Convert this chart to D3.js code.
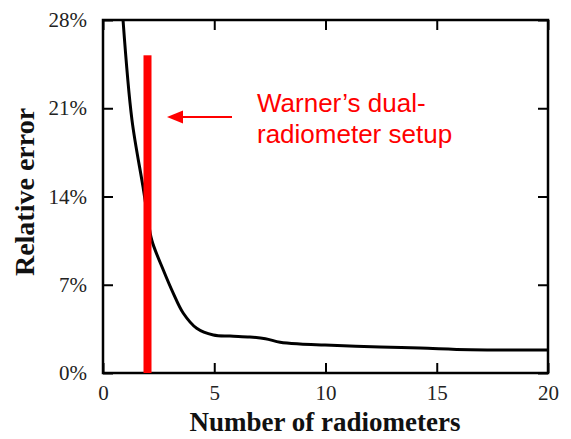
<!DOCTYPE html>
<html>
<head>
<meta charset="utf-8">
<script src="https://cdn.jsdelivr.net/npm/d3@7"></script>
<style>
  body { margin: 0; background: #fff; }
  svg { display: block; }
</style>
</head>
<body>
<div id="chart"></div>
<script>
// data
var radiometers = [0.9, 1.3, 1.8, 2.0, 2.19, 2.71, 3.16, 3.61, 4.21, 4.96, 5.71, 6.6, 7.3, 7.96, 8.85, 9.98, 12.45, 14.25, 16.5, 20];
var relError   = [28.0, 20.1, 14.75, 12.5, 10.55, 8.17, 6.32, 4.74, 3.55, 3.02, 2.93, 2.86, 2.72, 2.44, 2.30, 2.22, 2.06, 1.98, 1.85, 1.82];
var xTicks = [0, 5, 10, 15, 20];
var yTicks = [0, 7, 14, 21, 28];
var setupX = 2, setupTop = 25.2;
var noteLines = ["Warner\u2019s dual-", "radiometer setup"];

var W = 571, H = 439;
var m = {left: 103, right: 23, top: 20, bottom: 66};

var svg = d3.select("#chart").append("svg")
  .attr("width", W)
  .attr("height", H);

var x = d3.scaleLinear().domain([0, 20]).range([m.left, W - m.right]);
var y = d3.scaleLinear().domain([0, 28]).range([H - m.bottom, m.top]);

svg.append("clipPath").attr("id", "clip")
  .append("rect")
  .attr("x", m.left).attr("y", m.top)
  .attr("width", W - m.left - m.right)
  .attr("height", H - m.top - m.bottom);

// curve
var line = d3.line()
  .x(function(d, i) { return x(radiometers[i]); })
  .y(function(d) { return y(d); })
  .curve(d3.curveCatmullRom.alpha(0.5));

svg.append("path")
  .datum(relError)
  .attr("clip-path", "url(#clip)")
  .attr("d", line)
  .attr("fill", "none")
  .attr("stroke", "#000")
  .attr("stroke-width", 3);

// axes, ticks pointing inward on all four sides
var tickStyle = function(g) {
  g.attr("font-family", "Liberation Serif, serif");
  g.select(".domain").remove();
  g.selectAll(".tick line").attr("stroke", "#000").attr("stroke-width", 2);
  g.selectAll(".tick text")
    .attr("font-family", "Liberation Serif, serif")
    .attr("font-size", 21)
    .attr("fill", "#222");
};

svg.append("g")
  .attr("transform", "translate(0," + (H - m.bottom) + ")")
  .call(d3.axisBottom(x).tickValues(xTicks).tickSize(-10).tickPadding(12))
  .call(tickStyle);

svg.append("g")
  .attr("transform", "translate(0," + m.top + ")")
  .call(d3.axisTop(x).tickValues(xTicks).tickSize(-10).tickFormat(""))
  .call(tickStyle);

svg.append("g")
  .attr("transform", "translate(" + m.left + ",0)")
  .call(d3.axisLeft(y).tickValues(yTicks).tickSize(-10).tickPadding(16)
    .tickFormat(function(d) { return d + "%"; }))
  .call(tickStyle);

svg.append("g")
  .attr("transform", "translate(" + (W - m.right) + ",0)")
  .call(d3.axisRight(y).tickValues(yTicks).tickSize(-10).tickFormat(""))
  .call(tickStyle);

svg.append("rect")
  .attr("x", m.left).attr("y", m.top)
  .attr("width", W - m.left - m.right)
  .attr("height", H - m.top - m.bottom)
  .attr("fill", "none")
  .attr("stroke", "#000")
  .attr("stroke-width", 2.5);

// axis titles
svg.append("text")
  .attr("x", 325)
  .attr("y", 431)
  .attr("text-anchor", "middle")
  .attr("font-family", "Liberation Serif")
  .attr("font-weight", "bold")
  .attr("font-size", 27)
  .attr("fill", "#111")
  .text("Number of radiometers");

svg.append("text")
  .attr("transform", "translate(34,192) rotate(-90)")
  .attr("text-anchor", "middle")
  .attr("font-family", "Liberation Serif")
  .attr("font-weight", "bold")
  .attr("font-size", 28)
  .attr("fill", "#111")
  .text("Relative error");

// red marker for the dual setup
svg.append("rect")
  .attr("x", x(setupX) - 4)
  .attr("y", y(setupTop))
  .attr("width", 8)
  .attr("height", y(0) - y(setupTop))
  .attr("fill", "#ff0000");

// arrow and note
svg.append("line")
  .attr("x1", 232).attr("y1", 117)
  .attr("x2", 175).attr("y2", 117)
  .attr("stroke", "#ff0000")
  .attr("stroke-width", 2);

svg.append("path")
  .attr("d", "M167,117L183,110.5L183,123.5Z")
  .attr("fill", "#ff0000");

svg.append("text")
  .attr("x", 257).attr("y", 112)
  .attr("font-family", "Liberation Sans, Arial, sans-serif")
  .attr("font-size", 26)
  .attr("fill", "#ff0000")
  .selectAll("tspan")
  .data(noteLines)
  .enter()
  .append("tspan")
  .attr("x", 257)
  .attr("dy", function(d, i) { return i ? 31 : 0; })
  .text(function(d) { return d; });
</script>
</body>
</html>
